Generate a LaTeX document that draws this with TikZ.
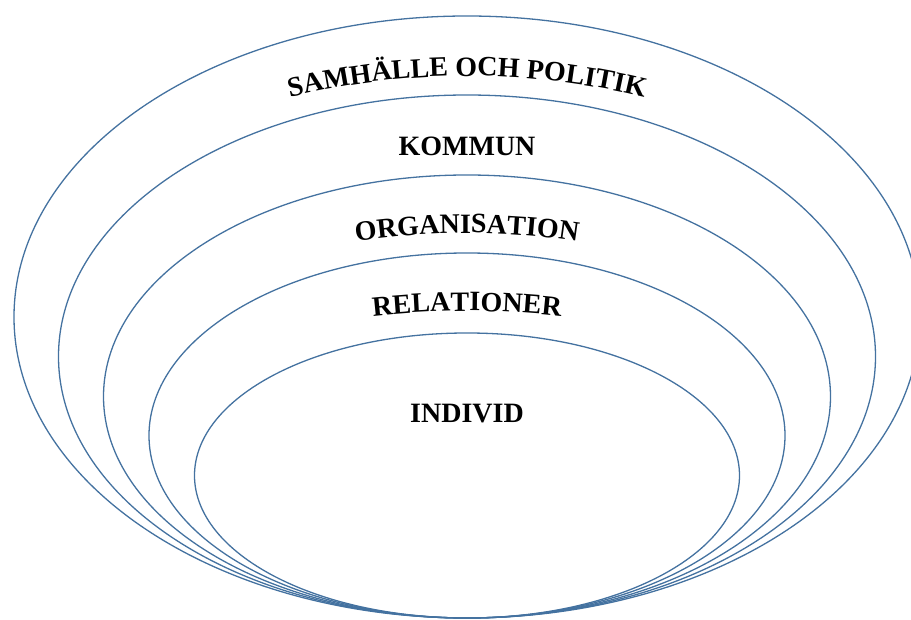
\documentclass[tikz,border=0pt]{standalone}
\usepackage{fontspec}
\setmainfont{Liberation Serif}
\usetikzlibrary{decorations.text}
\definecolor{ringblue}{RGB}{68,114,160}
\tikzset{
  ring/.style={draw=ringblue, line width=1.3pt},
  lbl/.style={font=\fontsize{28}{30}\selectfont\bfseries, text=black, inner sep=0pt, anchor=base},
  arclbl/.style={decorate, decoration={text along path, text align=center,
     text={|\fontsize{28}{30}\selectfont\bfseries|#1}}}
}
\begin{document}
\begin{tikzpicture}[x=1pt,y=1pt]
\useasboundingbox (0,0) rectangle (911,619);
\draw[ring] (467,302) ellipse [x radius=453, y radius=301];
\draw[ring] (467,262.5) ellipse [x radius=408.5, y radius=261.5];
\draw[ring] (467,222.5) ellipse [x radius=363.5, y radius=221.5];
\draw[ring] (467,183.5) ellipse [x radius=318, y radius=182.5];
\draw[ring] (467,143.5) ellipse [x radius=272.5, y radius=142.5];
% curved labels
\path[arclbl={SAMH{Ä}LLE OCH POLITIK}] (467,-197) ++(108:740) arc[start angle=108, end angle=72, radius=740];
\path[arclbl={ORGANISATION}] (467,-347) ++(102:733) arc[start angle=102, end angle=78, radius=733];
\path[arclbl={RELATIONER}] (467,-541) ++(99:849) arc[start angle=99, end angle=81, radius=849];
% straight labels
\node[lbl] (kommun) at (467,463) {KOMMUN};
\node[lbl] (individ) at (467,196) {INDIVID};
\end{tikzpicture}
\end{document}
